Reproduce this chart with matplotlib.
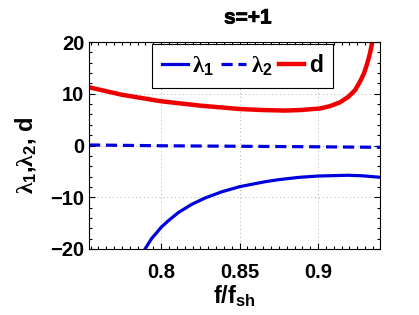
import numpy as np
import matplotlib
matplotlib.use("Agg")
import matplotlib.pyplot as plt
from matplotlib.ticker import MultipleLocator
from matplotlib import font_manager as fm
import matplotlib.patheffects as pe

plt.rcParams['font.family'] = ['Liberation Sans', 'DejaVu Sans']
plt.rcParams['font.weight'] = 'bold'
plt.rcParams['axes.labelweight'] = 'bold'
plt.rcParams['axes.titleweight'] = 'bold'
plt.rcParams['mathtext.fontset'] = 'custom'
plt.rcParams['mathtext.rm'] = 'Liberation Sans:bold'
plt.rcParams['mathtext.bf'] = 'Liberation Sans:bold'
plt.rcParams['mathtext.it'] = 'Liberation Serif'
plt.rcParams['mathtext.sf'] = 'Liberation Sans:bold'

# data
x_d = [0.754, 0.775, 0.8, 0.825, 0.85, 0.865, 0.879, 0.8885, 0.9013, 0.9076, 0.914, 0.9193,
       0.9236, 0.9267, 0.9293, 0.9314, 0.9331, 0.9346, 0.936]
d = [11.25, 9.8, 8.55, 7.7, 7.05, 6.85, 6.75, 6.85, 7.15, 7.6, 8.35, 9.4,
     10.7, 12.3, 13.95, 15.9, 17.8, 20.05, 22.5]

x_l1 = [0.788, 0.7897, 0.7941, 0.797, 0.8, 0.8047, 0.811, 0.8195, 0.828, 0.8385, 0.85, 0.8662,
        0.875, 0.888, 0.9, 0.919, 0.928, 0.94]
lam1 = [-21.2, -20.0, -17.9, -16.9, -15.8, -14.5, -12.95, -11.37, -10.14, -8.96, -7.96, -7.0,
        -6.6, -6.15, -5.9, -5.75, -5.85, -6.15]

x_l2 = [0.754, 0.8, 0.85, 0.9, 0.94]
lam2 = [0.1, -0.05, -0.15, -0.25, -0.35]

xticks = [0.8, 0.85, 0.9]
xticklabels = ['0.8', '0.85', '0.9']
yticks = [-20, -10, 0, 10, 20]

bold_path = fm.findfont(fm.FontProperties(family='Liberation Sans', weight='bold'))

fig = plt.figure(figsize=(4.19, 3.15), dpi=100)
ax = fig.add_axes([89/419, 66/315, 291/419, 207/315])

ax.plot(x_l1, lam1, color='#0000dd', lw=2.3, label=r'$\lambda_\mathbf{1}$')
ax.plot(x_l2, lam2, color='#0000dd', lw=2.3, ls=(0, (3.5, 1.8)), label=r'$\lambda_\mathbf{2}$')
ax.plot(x_d, d, color='#ee0000', lw=3.2, label='d')

ax.set_xlim(0.754, 0.9395)
ax.set_ylim(-20, 20)
ax.set_xticks(xticks)
ax.set_xticklabels(xticklabels)
ax.set_yticks(yticks)
ax.xaxis.set_minor_locator(MultipleLocator(0.005))
ax.yaxis.set_minor_locator(MultipleLocator(2))
ax.tick_params(which='both', direction='in', top=True, right=True, labelsize=14.5, width=0.8)
ax.tick_params(which='major', length=4)
ax.tick_params(which='minor', length=2)
ax.tick_params(axis='x', pad=10)
for lab in ax.get_xticklabels() + ax.get_yticklabels():
    lab.set_fontweight('bold')
ax.grid(True, which='major', ls=(0, (1, 3)), color='#b0b0b0', lw=0.7)
for s in ax.spines.values():
    s.set_linewidth(0.8)

title = fig.text(248/419, 1 - 18/315, 's=+1', fontproperties=fm.FontProperties(fname=bold_path, size=15),
                 ha='center', va='center')
title.set_path_effects([pe.withStroke(linewidth=0.6, foreground='black')])
ax.set_xlabel(r'f/f$_\mathbf{sh}$', fontsize=17, fontweight='bold', labelpad=1)
ax.set_ylabel(r'$\lambda_\mathbf{1}$,$\lambda_\mathbf{2}$, d', fontsize=17, fontweight='bold')
ax.yaxis.set_label_coords(-0.175, 0.454)

leg = ax.legend(loc='upper center', bbox_to_anchor=(0.5275, 0.99), ncol=3,
                prop={'size': 16.5, 'weight': 'bold'}, borderaxespad=0,
                handlelength=1.1, handletextpad=0.2, columnspacing=0.3, borderpad=0.45,
                fancybox=False, framealpha=1, edgecolor='black')
leg.get_frame().set_linewidth(0.8)

fig.savefig('out.png', dpi=100)
